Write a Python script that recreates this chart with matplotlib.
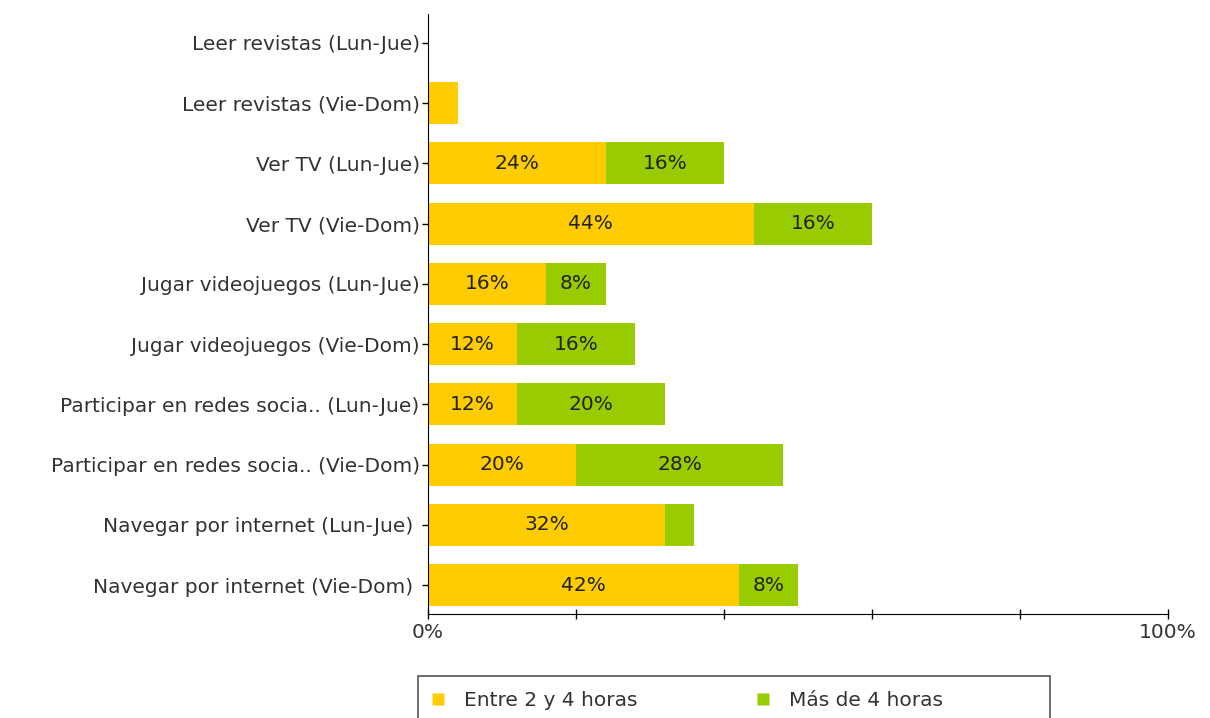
import numpy as np
import matplotlib
matplotlib.use("Agg")
import matplotlib.pyplot as plt
from matplotlib.lines import Line2D
from matplotlib.patches import Rectangle

# categories, top to bottom as in the chart
categories = [
    "Leer revistas (Lun-Jue)",
    "Leer revistas (Vie-Dom)",
    "Ver TV (Lun-Jue)",
    "Ver TV (Vie-Dom)",
    "Jugar videojuegos (Lun-Jue)",
    "Jugar videojuegos (Vie-Dom)",
    "Participar en redes socia.. (Lun-Jue)",
    "Participar en redes socia.. (Vie-Dom)",
    "Navegar por internet (Lun-Jue) ",
    "Navegar por internet (Vie-Dom) ",
]
entre_2_4 = [0, 4, 24, 44, 16, 12, 12, 20, 32, 42]
mas_de_4 = [0, 0, 16, 16, 8, 16, 20, 28, 4, 8]
series_names = ["Entre 2 y 4 horas", "Más de 4 horas"]
colors = ["#FFCC00", "#99CC00"]

plt.rcParams['font.family'] = ['DejaVu Sans']
text_col = "#333333"
fs = 14.5

fig = plt.figure(figsize=(12.1, 7.18), dpi=100)
ax = fig.add_axes([428/1210, 1-614/718, 740/1210, 600/718])

y = np.arange(len(categories))[::-1]
a = np.array(entre_2_4)
b = np.array(mas_de_4)
bars1 = ax.barh(y, a, height=0.7, color=colors[0], linewidth=0)
bars2 = ax.barh(y, b, left=a, height=0.7, color=colors[1], linewidth=0)

# value labels inside segments (small ones are left unlabelled)
for vals, lefts in [(a, np.zeros_like(a)), (b, a)]:
    for yy, v, l in zip(y, vals, lefts):
        if v >= 8:
            ax.text(l + v/2, yy, f"{v}%", ha="center", va="center",
                    fontsize=fs, color="#222222")

ax.set_xlim(0, 100)
ax.set_ylim(-0.48, len(categories) - 0.52)
ax.set_yticks(y)
ax.set_yticklabels(categories, fontsize=fs, color=text_col)
ax.set_xticks([0, 20, 40, 60, 80, 100])
ax.set_xticklabels(["0%", "", "", "", "", "100%"], fontsize=fs, color=text_col)
ax.tick_params(axis="y", length=4, width=1, pad=2)
ax.tick_params(axis="x", length=7, width=1, direction="inout", pad=3)
for s in ["top", "right"]:
    ax.spines[s].set_visible(False)
ax.spines["left"].set_color("black")
ax.spines["bottom"].set_color("black")

# legend box (cut off by the figure's bottom edge, as in the original)
fig.patches.append(Rectangle((418/1210, -0.05), 632/1210, 0.05 + 1-676/718,
                             transform=fig.transFigure, facecolor="white",
                             edgecolor="#555555", linewidth=1.2))
handles = [Line2D([], [], marker="s", linestyle="none", markersize=8,
                  markerfacecolor=c, markeredgecolor="none") for c in colors]
leg = fig.legend(handles, series_names, loc="center left", ncol=2,
                 bbox_to_anchor=(428/1210, 1-701/718),
                 fontsize=fs, frameon=False, borderpad=0, borderaxespad=0,
                 handlelength=1.0, handletextpad=0.8, columnspacing=5.7)
for t in leg.get_texts():
    t.set_color(text_col)

fig.savefig("out.png", dpi=100)
